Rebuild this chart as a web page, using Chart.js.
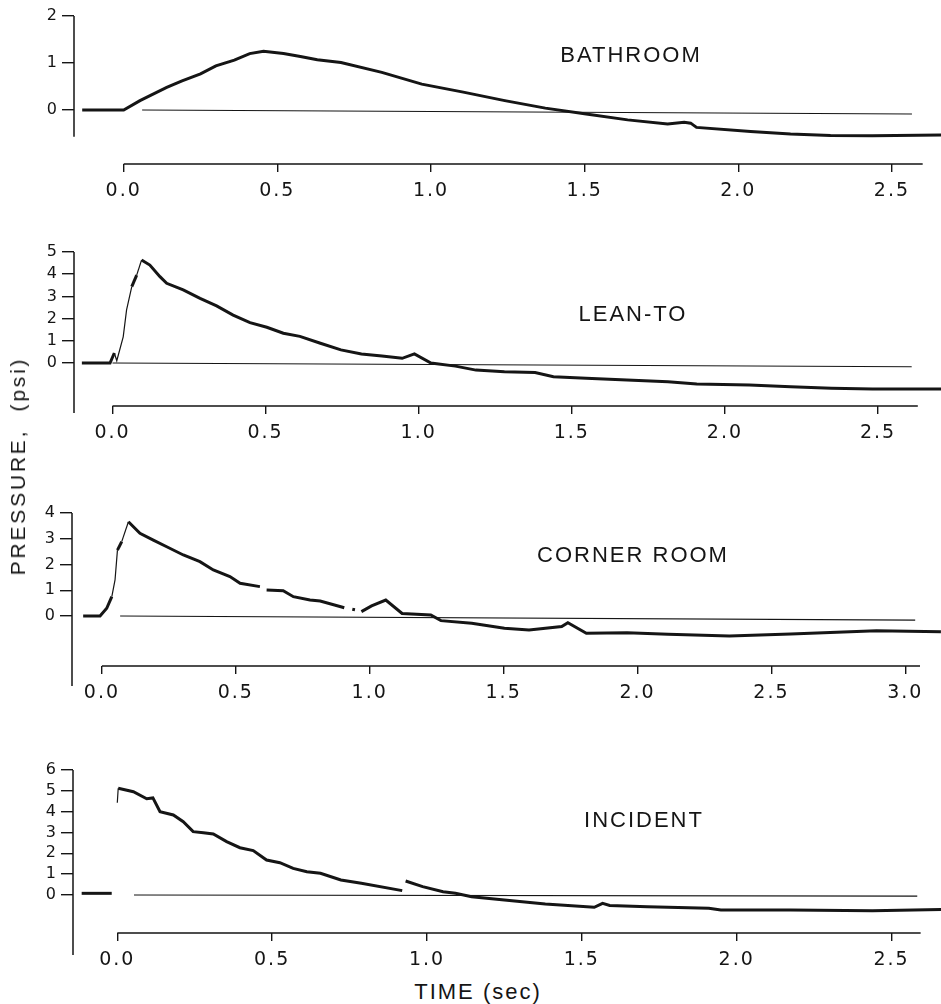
<!DOCTYPE html>
<html>
<head>
<meta charset="utf-8">
<script src="https://cdn.jsdelivr.net/npm/chart.js@4.4.1/dist/chart.umd.min.js"></script>
<style>
  body { margin: 0; background: #fff; }
  #fig { position: relative; width: 941px; height: 1004px; overflow: hidden; }
  #fig canvas { position: absolute; left: 0; }
  .lbl {
    position: absolute;
    transform: translate(-50%, -50%);
    font-family: 'Liberation Sans', Arial, sans-serif;
    font-size: 22px;
    letter-spacing: 2px;
    color: #151515;
    white-space: nowrap;
  }
  .ytitle { transform: translate(-50%, -50%) rotate(-90deg); font-size: 21px; letter-spacing: 2.8px; }
</style>
</head>
<body>
<div id="fig">
  <canvas id="bathroom" width="941" height="200" style="top:0px"></canvas>
  <canvas id="leanTo" width="941" height="232" style="top:210px"></canvas>
  <canvas id="corner" width="941" height="242" style="top:460px"></canvas>
  <canvas id="incident" width="941" height="249" style="top:720px"></canvas>

  <div class="lbl" style="left:631px;top:55px">BATHROOM</div>
  <div class="lbl" style="left:633px;top:314px">LEAN-TO</div>
  <div class="lbl" style="left:633px;top:555px">CORNER ROOM</div>
  <div class="lbl" style="left:644px;top:820px">INCIDENT</div>
  <div class="lbl ytitle" style="left:18px;top:466px">PRESSURE,&nbsp; (psi)</div>
  <div class="lbl" style="left:478px;top:992px">TIME (sec)</div>
</div>

<script>
// ---- pressure traces: time (sec) / pressure (psi) ----

const bathroomT = [-0.135, 0.0, 0.053, 0.14, 0.19, 0.25, 0.30, 0.36, 0.41, 0.455, 0.52, 0.575, 0.63,
  0.707, 0.84, 0.97, 1.105, 1.24, 1.372, 1.505, 1.64, 1.77, 1.824, 1.845, 1.864, 2.04, 2.17, 2.30, 2.436, 2.66];
const bathroomP = [0.0, 0.0, 0.2, 0.48, 0.62, 0.77, 0.94, 1.06, 1.2, 1.25, 1.2, 1.14, 1.07,
  1.01, 0.80, 0.55, 0.38, 0.20, 0.04, -0.085, -0.21, -0.30, -0.26, -0.28, -0.37, -0.46, -0.51, -0.54, -0.55, -0.53];

const leanToT = [-0.10, -0.008, 0.006, 0.014, 0.035, 0.046, 0.063, 0.079, 0.095, 0.122, 0.155, 0.177, 0.231,
  0.286, 0.34, 0.394, 0.449, 0.504, 0.558, 0.612, 0.679, 0.746, 0.813, 0.88, 0.946, 0.986, 1.04, 1.12,
  1.187, 1.28, 1.38, 1.44, 1.547, 1.68, 1.814, 1.908, 2.08, 2.215, 2.348, 2.482, 2.706];
const leanToP = [0.0, 0.0, 0.45, 0.1, 1.18, 2.39, 3.44, 3.96, 4.64, 4.41, 3.89, 3.59, 3.29,
  2.91, 2.57, 2.16, 1.82, 1.61, 1.34, 1.2, 0.89, 0.59, 0.41, 0.32, 0.21, 0.41, 0.0, -0.14,
  -0.32, -0.39, -0.43, -0.62, -0.69, -0.77, -0.84, -0.95, -0.99, -1.07, -1.14, -1.17, -1.17];

const cornerT = [-0.07, -0.007, 0.018, 0.037, 0.049, 0.058, 0.074, 0.099, 0.142, 0.192, 0.242, 0.304, 0.366,
  0.416, 0.478, 0.516, 0.59, 0.60, 0.615, 0.677, 0.715, 0.777, 0.815, 0.892, 0.905, 0.92, 0.935, 0.945, 0.955,
  0.969, 1.007, 1.06, 1.121, 1.228, 1.266, 1.381, 1.503, 1.595, 1.717, 1.74, 1.809, 1.961, 2.114, 2.343,
  2.572, 2.892, 3.133];
const cornerP = [0.0, 0.0, 0.3, 0.75, 1.4, 2.56, 2.89, 3.66, 3.21, 2.95, 2.69, 2.37, 2.11,
  1.79, 1.53, 1.27, 1.14, null, 1.01, 0.98, 0.75, 0.62, 0.58, 0.36, 0.32, null, 0.26, 0.24, null,
  0.17, 0.39, 0.62, 0.1, 0.04, -0.18, -0.28, -0.48, -0.54, -0.41, -0.26, -0.67, -0.65, -0.71, -0.78,
  -0.70, -0.57, -0.61];

const incidentT = [-0.115, -0.018, -0.01, 0.0, 0.003, 0.052, 0.095, 0.115, 0.138, 0.181, 0.213, 0.245, 0.278,
  0.31, 0.353, 0.396, 0.439, 0.482, 0.525, 0.568, 0.612, 0.656, 0.722, 0.788, 0.92, 0.925, 0.931, 0.986,
  1.052, 1.092, 1.144, 1.25, 1.382, 1.54, 1.567, 1.59, 1.712, 1.91, 1.949, 2.174, 2.438, 2.66];
const incidentP = [0.08, 0.08, null, 4.43, 5.12, 4.96, 4.62, 4.66, 4.0, 3.84, 3.52, 3.04, 2.99,
  2.93, 2.56, 2.27, 2.13, 1.68, 1.55, 1.28, 1.12, 1.04, 0.72, 0.56, 0.21, null, 0.67, 0.4,
  0.16, 0.08, -0.08, -0.24, -0.43, -0.59, -0.40, -0.5, -0.56, -0.64, -0.72, -0.72, -0.75, -0.69];

// zero reference line of each record (start / end)
const bathroomBaseT = [0.06, 2.565];
const bathroomBaseP = [0, -0.085];
const leanToBaseT = [0.0, 2.61];
const leanToBaseP = [0, -0.17];
const cornerBaseT = [0.068, 3.037];
const cornerBaseP = [0, -0.16];
const incidentBaseT = [0.054, 2.583];
const incidentBaseP = [0, -0.05];

// tick values
const timeTicks = [0, 0.5, 1.0, 1.5, 2.0, 2.5];
const timeTicksLong = [0, 0.5, 1.0, 1.5, 2.0, 2.5, 3.0];
const bathroomTicks = [0, 1, 2];
const leanToTicks = [0, 1, 2, 3, 4, 5];
const cornerTicks = [0, 1, 2, 3, 4];
const incidentTicks = [0, 1, 2, 3, 4, 5, 6];

const INK = '#151515';

const toPoints = (ts, ps) => ts.map((t, i) => ({ x: t, y: ps[i] }));

// axis lines that stop short of each other, like the hand-drawn frame
const brokenAxes = {
  id: 'brokenAxes',
  beforeDraw(chart) {
    // stencil lettering is widely spaced
    chart.ctx.letterSpacing = '2px';
  },
  afterDatasetsDraw(chart, args, opts) {
    const { ctx, chartArea, scales: { x, y } } = chart;
    ctx.save();
    ctx.strokeStyle = INK;
    ctx.lineWidth = 1.5;
    ctx.beginPath();
    ctx.moveTo(chartArea.left, y.getPixelForValue(opts.yFrom));
    ctx.lineTo(chartArea.left, y.getPixelForValue(opts.yTo));
    ctx.moveTo(x.getPixelForValue(opts.xFrom), chartArea.bottom);
    ctx.lineTo(x.getPixelForValue(opts.xTo), chartArea.bottom);
    ctx.stroke();
    ctx.restore();
  }
};

function makePanel(p) {
  return new Chart(document.getElementById(p.id), {
    type: 'line',
    data: {
      datasets: [
        {
          data: toPoints(p.t, p.p),
          borderColor: INK,
          borderWidth: 3,
          pointRadius: 0,
          tension: 0,
          spanGaps: false,
          segment: {
            // fast rises are traced faintly
            borderWidth: ctx => Math.abs(ctx.p1.y - ctx.p0.y) > 2.5 * Math.abs(ctx.p1.x - ctx.p0.x) ? 1.2 : 3
          }
        },
        {
          data: toPoints(p.baseT, p.baseP),
          borderColor: INK,
          borderWidth: 1.2,
          pointRadius: 0
        }
      ]
    },
    options: {
      responsive: false,
      animation: false,
      events: [],
      layout: { padding: { top: p.padTop, left: 0, right: 0, bottom: 0 } },
      plugins: {
        legend: { display: false },
        tooltip: { enabled: false },
        brokenAxes: { yFrom: p.yTicks[p.yTicks.length - 1], yTo: p.yAxisEnd, xFrom: 0, xTo: p.xAxisEnd }
      },
      scales: {
        x: {
          type: 'linear',
          min: p.xMin,
          max: p.xMax,
          border: { display: false },
          grid: { drawOnChartArea: false, drawTicks: true, tickLength: 8, tickColor: INK, lineWidth: 1.4 },
          afterBuildTicks: s => { s.ticks = p.xTicks.map(v => ({ value: v })); },
          afterFit: s => { s.height = 36; },
          ticks: {
            color: INK,
            padding: 8,
            maxRotation: 0,
            autoSkip: false,
            font: { family: "'DejaVu Sans', sans-serif", size: 19 },
            callback: v => v.toFixed(1)
          }
        },
        y: {
          type: 'linear',
          min: p.yMin,
          max: p.yTicks[p.yTicks.length - 1],
          border: { display: false },
          grid: { drawOnChartArea: false, drawTicks: true, tickLength: 12, tickColor: INK, lineWidth: 1.4 },
          afterBuildTicks: s => { s.ticks = p.yTicks.map(v => ({ value: v })); },
          afterFit: s => { s.width = p.axisX; },
          ticks: {
            color: INK,
            padding: 3,
            autoSkip: false,
            font: { family: "'DejaVu Sans', sans-serif", size: 16 },
            callback: v => String(v)
          }
        }
      }
    },
    plugins: [brokenAxes]
  });
}

[
  { id: 'bathroom', t: bathroomT, p: bathroomP, baseT: bathroomBaseT, baseP: bathroomBaseP,
    xTicks: timeTicks, yTicks: bathroomTicks, padTop: 16, axisX: 74,
    xMin: -0.1617, xMax: 2.6596, yMin: -1.149, yAxisEnd: -0.57, xAxisEnd: 2.60 },
  { id: 'leanTo', t: leanToT, p: leanToP, baseT: leanToBaseT, baseP: leanToBaseP,
    xTicks: timeTicks, yTicks: leanToTicks, padTop: 42, axisX: 74,
    xMin: -0.1257, xMax: 2.7057, yMin: -1.937, yAxisEnd: -2.25, xAxisEnd: 2.63 },
  { id: 'corner', t: cornerT, p: cornerP, baseT: cornerBaseT, baseP: cornerBaseP,
    xTicks: timeTicksLong, yTicks: cornerTicks, padTop: 53, axisX: 72,
    xMin: -0.1117, xMax: 3.1333, yMin: -1.942, yAxisEnd: -2.72, xAxisEnd: 3.055 },
  { id: 'incident', t: incidentT, p: incidentP, baseT: incidentBaseT, baseP: incidentBaseP,
    xTicks: timeTicks, yTicks: incidentTicks, padTop: 50, axisX: 73,
    xMin: -0.1430, xMax: 2.6597, yMin: -1.824, yAxisEnd: -2.88, xAxisEnd: 2.594 }
].forEach(makePanel);
</script>
</body>
</html>
